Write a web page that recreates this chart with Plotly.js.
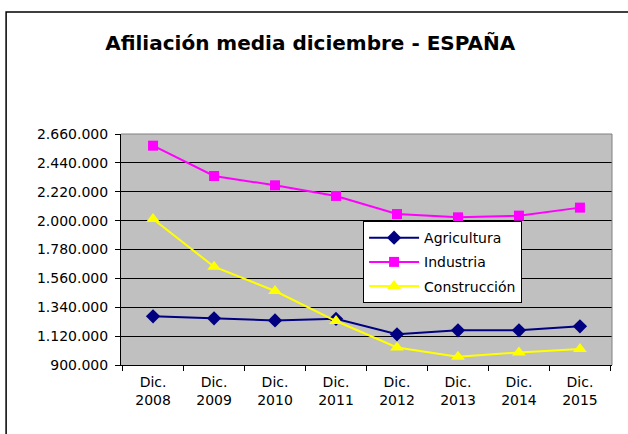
<!DOCTYPE html>
<html>
<head>
<meta charset="utf-8">
<script src="https://cdn.plot.ly/plotly-3.0.1.min.js"></script>
<style>
  html, body { margin: 0; padding: 0; background: #fff; overflow: hidden; }
  #chart { width: 628px; height: 434px; }
</style>
</head>
<body>
<div id="chart"></div>
<script>
// Afiliación media a la Seguridad Social, diciembre de cada año
const categories = ['Dic.<br>2008', 'Dic.<br>2009', 'Dic.<br>2010', 'Dic.<br>2011',
                    'Dic.<br>2012', 'Dic.<br>2013', 'Dic.<br>2014', 'Dic.<br>2015'];

const agricultura = [1271000, 1256000, 1240000, 1252000, 1134000, 1164000, 1164000, 1195000];
const industria = [2571000, 2340000, 2269000, 2188000, 2050000, 2025000, 2038000, 2099000];
const construccion = [2012000, 1649000, 1464000, 1235000, 1034000, 963000, 996000, 1022000];

const yTicks = [900000, 1120000, 1340000, 1560000, 1780000, 2000000, 2220000, 2440000, 2660000];

const FONT = 'DejaVu Sans, Arial, sans-serif';

function serie(name, y, color, symbol, size) {
    return {
        x: categories,
        y: y,
        name: name,
        legendgroup: name,
        type: 'scatter',
        mode: 'lines+markers',
        line: { color: color, width: 2 },
        marker: { color: color, symbol: symbol, size: size }
    };
}

const traces = [
    serie('Agricultura', agricultura, '#000080', 'diamond', 11),
    serie('Industria', industria, '#FF00FF', 'square', 10),
    serie('Construcción', construccion, '#FFFF00', 'triangle-up', 12)
];

const layout = {
    width: 628,
    height: 434,
    margin: { l: 121, r: 16, t: 134, b: 69 },
    paper_bgcolor: '#ffffff',
    plot_bgcolor: '#C0C0C0',
    separators: ',.',
    font: { family: FONT, size: 14, color: '#000' },
    title: {
        text: '<b>Afiliación media diciembre - ESPAÑA</b>',
        font: { family: FONT, size: 20, color: '#000' },
        x: 0.494, xref: 'container',
        y: 0.9, yref: 'container', yanchor: 'middle'
    },
    showlegend: true,
    legend: {
        x: 0.493, y: 0.623, xanchor: 'left', yanchor: 'top',
        bgcolor: '#ffffff', bordercolor: '#000', borderwidth: 1,
        font: { family: FONT, size: 14, color: '#000' },
        itemwidth: 50,
        tracegroupgap: 3
    },
    xaxis: {
        type: 'category',
        showgrid: false,
        showline: true, linecolor: '#000', linewidth: 1,
        ticks: 'outside', tickson: 'boundaries', ticklen: 5, tickcolor: '#000',
        tickfont: { family: FONT, size: 14, color: '#000' },
        ticklabelstandoff: 4,
        fixedrange: true
    },
    yaxis: {
        range: [900000, 2660000],
        tickvals: yTicks,
        tickformat: ',d',
        showgrid: true, gridcolor: '#000', gridwidth: 1,
        showline: true, linecolor: '#000', linewidth: 1,
        ticks: 'outside', ticklen: 5, tickcolor: '#000',
        tickfont: { family: FONT, size: 14, color: '#000' },
        ticklabelstandoff: 4,
        zeroline: false,
        fixedrange: true
    },
    shapes: [
        // borde derecho y superior del área de trazado
        { type: 'line', xref: 'paper', yref: 'paper', x0: 0, x1: 1, y0: 1, y1: 1,
          line: { color: '#808080', width: 1 } },
        { type: 'line', xref: 'paper', yref: 'paper', x0: 1, x1: 1, y0: 0, y1: 1,
          line: { color: '#808080', width: 1 } },
        // marco exterior del gráfico
        { type: 'rect', xref: 'paper', yref: 'paper', x0: -0.234, x1: 1.04, y0: -0.35, y1: 1.528,
          line: { color: '#000', width: 1.5 }, layer: 'below' }
    ]
};

Plotly.newPlot('chart', traces, layout, { displayModeBar: false, staticPlot: true });
</script>
</body>
</html>
